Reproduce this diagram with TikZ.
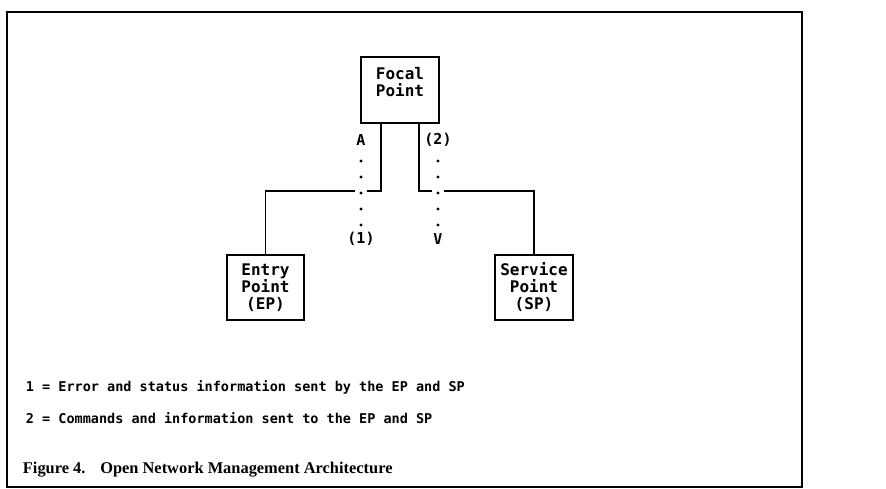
\documentclass[tikz,border=0pt]{standalone}
\usepackage{fontspec}
\setmainfont{Liberation Serif}
\setmonofont{DejaVu Sans Mono}
\begin{document}
\begin{tikzpicture}[x=1pt,y=-1pt, line width=1.9pt,
  box/.style={draw, rectangle, inner sep=0pt, font=\ttfamily\bfseries\fontsize{16}{17}\selectfont, align=center},
  lbl/.style={font=\ttfamily\bfseries\fontsize{15}{17}\selectfont, inner sep=0pt},
  legend/.style={font=\ttfamily\bfseries\fontsize{13.5}{16}\selectfont, anchor=base west, inner sep=0pt},
  caption/.style={font=\bfseries\fontsize{16.4}{18}\selectfont, anchor=base west, inner sep=0pt},
  dotc/.style={circle, fill=black, inner sep=0pt, minimum size=3.2pt}]
\useasboundingbox (0,0) rectangle (886,489);
\draw (7,12) rectangle (802,487);
\node[box, minimum width=78pt, minimum height=66pt] (focal) at (400,90) {Focal\\Point\\~};
\node[box, minimum width=77pt, minimum height=65pt] (entry) at (265.5,287.5) {Entry\\Point\\(EP)};
\node[box, minimum width=78pt, minimum height=65pt] (service) at (534,287.5) {Service\\Point\\(SP)};
\draw ([xshift=-19pt]focal.south) -- ++(0,67) -| (entry.north);
\draw ([xshift=19pt]focal.south) -- ++(0,67) -| (service.north);
\fill[white] (355,186) rectangle (367,194);
\fill[white] (432,186) rectangle (444,194);
\foreach \yy in {161,177,193,209,225} {
  \node[dotc] at (361,\yy) {};
  \node[dotc] at (438,\yy) {};
}
\node[lbl] (upA) at (361,140) {A};
\node[lbl] (two) at (438,140) {(2)};
\node[lbl] (one) at (361,239) {(1)};
\node[lbl] (downV) at (438,239) {V};
\node[legend] (leg1) at (25,391) {1 = Error and status information sent by the EP and SP};
\node[legend] (leg2) at (25,423) {2 = Commands and information sent to the EP and SP};
\node[caption] (cap) at (22,473) {Figure 4.\hspace{0.9em}Open Network Management Architecture};
\end{tikzpicture}
\end{document}
